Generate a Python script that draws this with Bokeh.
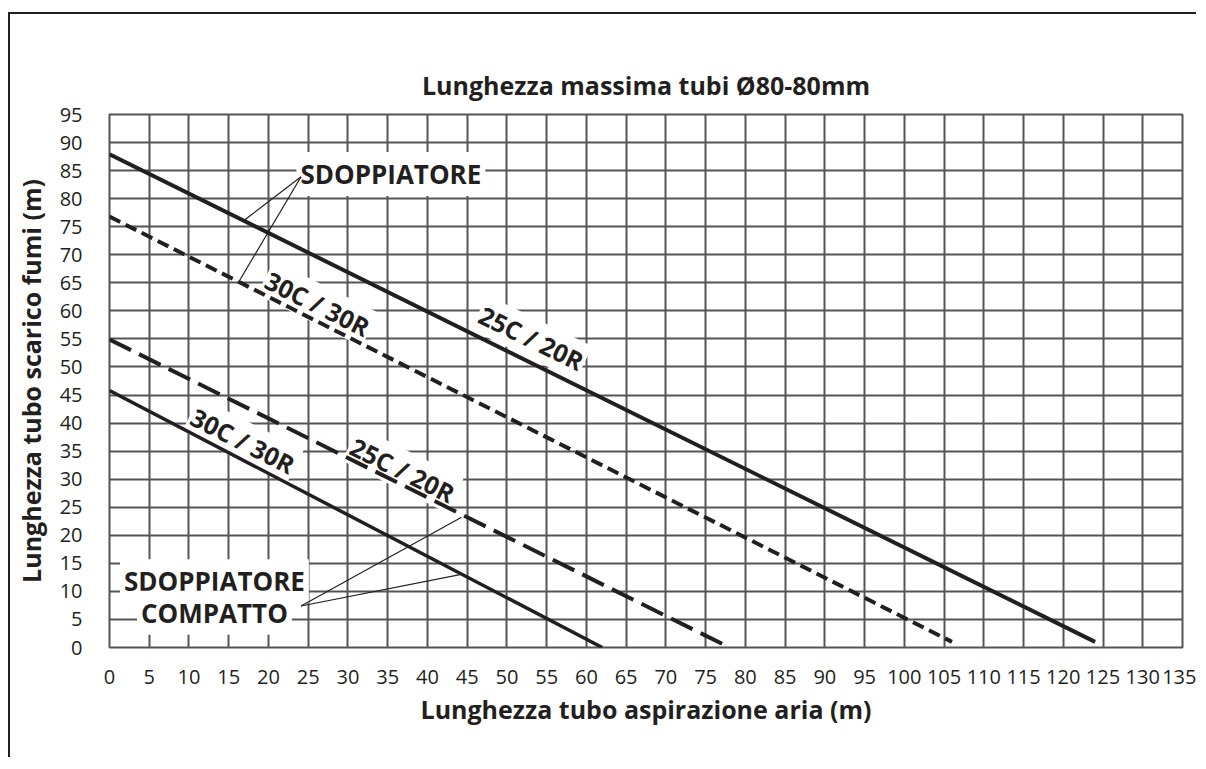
import math
from bokeh.plotting import figure
from bokeh.models import Label, Range1d, FixedTicker
from bokeh.embed import file_html
from bokeh.resources import INLINE

# ---- data ----
x_ticks = list(range(0, 140, 5))
y_ticks = list(range(0, 100, 5))

# SDOPPIATORE
sd_25c_20r_x = [0, 124]
sd_25c_20r_y = [87.9, 1.0]
sd_30c_30r_x = [0, 106]
sd_30c_30r_y = [76.8, 1.0]
# SDOPPIATORE COMPATTO
cp_25c_20r_x = [0, 78]
cp_25c_20r_y = [54.9, 0.0]
cp_30c_30r_x = [0, 62]
cp_30c_30r_y = [45.8, 0.0]

# annotation anchors (data units)
curve_label_texts = ["30C / 30R", "25C / 20R", "30C / 30R", "25C / 20R"]
curve_label_x = [26.2, 53.1, 16.8, 36.9]
curve_label_y = [61.3, 55.2, 36.9, 31.7]
curve_label_angle = [-26.5, -26.0, -27.0, -26.5]

leader_x0 = [24.1, 24.1, 24.1, 24.1]
leader_y0 = [83.9, 83.9, 7.4, 7.4]
leader_x1 = [17.0, 16.4, 44.3, 44.1]
leader_y1 = [76.2, 65.5, 23.2, 13.0]

INK = "#231f20"
GRID = "#555555"
FONT = "Open Sans"

p = figure(width=1188, height=745,
           x_range=Range1d(0, 135), y_range=Range1d(0, 95),
           output_backend="svg", toolbar_location=None,
           min_border_left=92, min_border_right=16,
           min_border_top=100, min_border_bottom=112,
           title="Lunghezza massima tubi Ø80-80mm")
p.styles = {"border-left": "2px solid " + INK, "border-top": "2px solid " + INK,
            "margin-top": "12px", "margin-left": "8px"}

p.title.align = "center"
p.title.text_font = FONT
p.title.text_font_size = "25px"
p.title.text_font_style = "bold"
p.title.text_color = INK
p.title.standoff = 26

p.background_fill_color = "white"
p.border_fill_color = "white"
p.outline_line_color = GRID
p.outline_line_width = 2

for ax, ticks in ((p.xaxis, x_ticks), (p.yaxis, y_ticks)):
    ax.ticker = FixedTicker(ticks=ticks)
    ax.axis_line_color = None
    ax.major_tick_line_color = None
    ax.minor_tick_line_color = None
    ax.major_label_text_font = FONT
    ax.major_label_text_font_size = "20px"
    ax.major_label_text_color = INK
    ax.axis_label_text_font = FONT
    ax.axis_label_text_font_size = "25px"
    ax.axis_label_text_font_style = "bold"
    ax.axis_label_text_color = INK

p.xaxis.axis_label = "Lunghezza tubo aspirazione aria (m)"
p.yaxis.axis_label = "Lunghezza tubo scarico fumi (m)"
p.xaxis.major_label_standoff = 16
p.yaxis.major_label_standoff = 21
p.xaxis.axis_label_standoff = 5
p.yaxis.axis_label_standoff = 9

p.xgrid.ticker = FixedTicker(ticks=x_ticks)
p.ygrid.ticker = FixedTicker(ticks=y_ticks)
p.grid.grid_line_color = GRID
p.grid.grid_line_width = 2

# curve labels (white boxes, beneath the lines)
for t, x, y, a in zip(curve_label_texts, curve_label_x, curve_label_y, curve_label_angle):
    p.add_layout(Label(x=x, y=y, text=t, angle=math.radians(a),
                       text_align="center", text_baseline="middle",
                       text_font=FONT, text_font_size="25px", text_font_style="bold",
                       text_color=INK, background_fill_color="white",
                       padding=2, level="underlay"))

for t, x, y in (("SDOPPIATORE", 35.4, 84.4),
                ("SDOPPIATORE", 13.2, 11.8),
                ("COMPATTO", 13.2, 6.2)):
    p.add_layout(Label(x=x, y=y, text=t,
                       text_align="center", text_baseline="middle",
                       text_font=FONT, text_font_size="26px", text_font_style="bold",
                       text_color=INK, background_fill_color="white",
                       padding=4, level="underlay"))

# curves
p.line(sd_25c_20r_x, sd_25c_20r_y, line_color=INK, line_width=4)
p.line(sd_30c_30r_x, sd_30c_30r_y, line_color=INK, line_width=4, line_dash="12 6")
p.line(cp_25c_20r_x, cp_25c_20r_y, line_color=INK, line_width=4, line_dash="24 9")
p.line(cp_30c_30r_x, cp_30c_30r_y, line_color=INK, line_width=3.5)

# leader lines
p.segment(leader_x0, leader_y0, leader_x1, leader_y1, line_color=INK, line_width=1.2)

open("out.html", "w").write(file_html(p, INLINE))
